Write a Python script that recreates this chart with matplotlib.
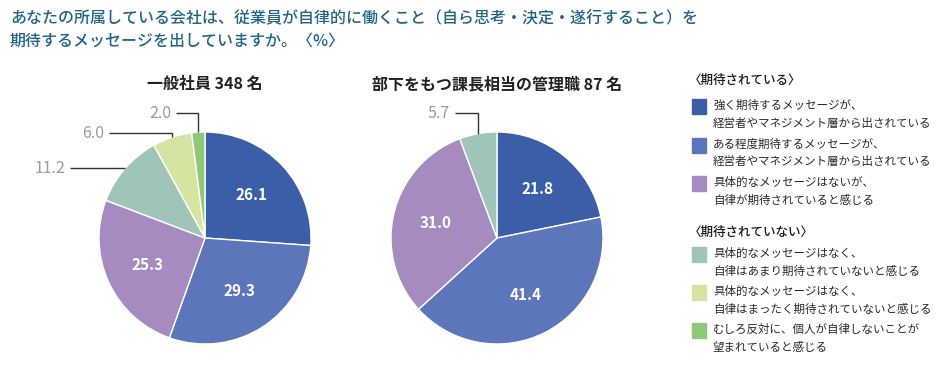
import numpy as np
import matplotlib.pyplot as plt
from matplotlib.patches import Rectangle

plt.rcParams['font.family'] = ['Noto Sans CJK JP', 'DejaVu Sans']

# ------------------------
# data
# ------------------------
title = ("あなたの所属している会社は、従業員が自律的に働くこと（自ら思考・決定・遂行すること）を\n"
         "期待するメッセージを出していますか。〈%〉")

pie1_title = "一般社員 348 名"
pie2_title = "部下をもつ課長相当の管理職 87 名"

categories = [
    "強く期待するメッセージが、\n経営者やマネジメント層から出されている",
    "ある程度期待するメッセージが、\n経営者やマネジメント層から出されている",
    "具体的なメッセージはないが、\n自律が期待されていると感じる",
    "具体的なメッセージはなく、\n自律はあまり期待されていないと感じる",
    "具体的なメッセージはなく、\n自律はまったく期待されていないと感じる",
    "むしろ反対に、個人が自律しないことが\n望まれていると感じる",
]
group_headers = ["〈期待されている〉", "〈期待されていない〉"]

staff_values = [26.1, 29.3, 25.3, 11.2, 6.0, 2.0]
manager_values = [21.8, 41.4, 31.0, 5.7]

colors = ["#3b5ea9", "#5b76ba", "#a68bc1", "#9ec5b7", "#d4e4a1", "#8ec879"]

# ------------------------
# layout (pixels, origin top-left)
# ------------------------
W, H = 941, 365
fig = plt.figure(figsize=(W / 100, H / 100), dpi=100)
ax = fig.add_axes([0, 0, 1, 1])


def Y(p):
    return H - p


R = 106
grey = "#9d9a98"

fig.text(10 / W, 1 - 10 / H, title, ha="left", va="top", fontsize=11.5,
         fontweight="medium", color="#1f6584", linespacing=1.45)


def draw_pie(cx, cy, values, name, outside):
    wedges, _ = ax.pie(values, colors=colors[:len(values)], startangle=90,
                       counterclock=False, center=(cx, Y(cy)), radius=R,
                       wedgeprops=dict(edgecolor="white", linewidth=1.0),
                       frame=True)
    ax.text(cx, Y(84), name, ha="center", va="center", fontsize=11.5,
            fontweight="bold", color="#222222")
    for i, (w, v) in enumerate(zip(wedges, values)):
        mid = np.deg2rad((w.theta1 + w.theta2) / 2)
        if i in outside:
            # leader line: up from the rim, then left to the label
            ly, length = outside[i]
            ex = cx + R * np.cos(mid)
            ey = Y(cy) + R * np.sin(mid)
            ly_d = ey if ly is None else Y(ly)
            ax.plot([ex, ex, ex - length], [ey, ly_d, ly_d], color="#333333",
                    lw=1.0, solid_capstyle="butt", solid_joinstyle="miter")
            ax.text(ex - length - 5, ly_d, f"{v:.1f}", ha="right", va="center",
                    fontsize=11.5, color=grey)
        else:
            r = 0.6 * R
            ax.text(cx + r * np.cos(mid), Y(cy) + r * np.sin(mid), f"{v:.1f}",
                    ha="center", va="center", fontsize=11, fontweight="bold",
                    color="white")


draw_pie(205, 238, staff_values, pie1_title,
         {3: (None, 55), 4: (133, 63), 5: (113, 22)})
draw_pie(497, 238, manager_values, pie2_title, {3: (113, 23)})
ax.set_xlim(0, W)
ax.set_ylim(0, H)
ax.set_aspect("equal")
ax.axis("off")

# legend
lx = 689
ax.text(lx, Y(80), group_headers[0], ha="left", va="center", fontsize=9,
        fontweight="medium", color="#1a1a1a")
ax.text(lx, Y(232), group_headers[1], ha="left", va="center", fontsize=9,
        fontweight="medium", color="#1a1a1a")
item_y = [106, 145, 183, 254, 292, 330]
for c, label, iy in zip(colors, categories, item_y):
    ax.add_patch(Rectangle((692, Y(iy + 8)), 14, 15, color=c))
    ax.text(713, Y(iy - 7), label, ha="left", va="top", fontsize=8.3,
            color="#2a2a2a", linespacing=1.45)

fig.savefig("out.png", dpi=100)
